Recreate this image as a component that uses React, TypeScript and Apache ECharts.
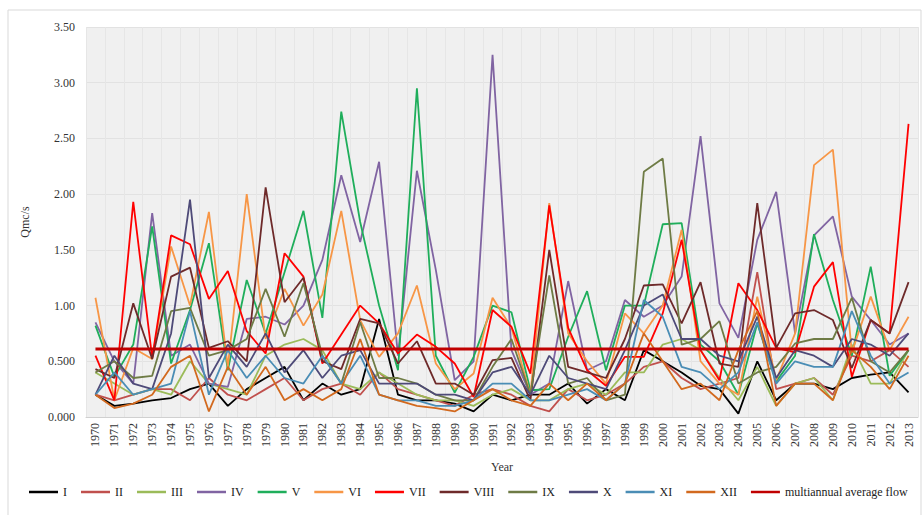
import React, { useEffect, useRef } from "react";
import * as echarts from "echarts";

const years = Array.from({ length: 44 }, (_, i) => String(1970 + i));
const yTicks = ["0.000", "0.500", "1.00", "1.50", "2.00", "2.50", "3.00", "3.50"];

const seriesNames = ["I", "II", "III", "IV", "V", "VI", "VII", "VIII", "IX", "X", "XI", "XII"];
const seriesColors = ["#000000", "#C0504D", "#9BBB59", "#8064A2", "#1FAE5B", "#F79646", "#FF0000", "#6E2A2A", "#6E7B45", "#4E4A78", "#4A8DB5", "#D2691E"];

const mI = [0.2, 0.1, 0.12, 0.15, 0.17, 0.25, 0.3, 0.1, 0.25, 0.35, 0.45, 0.15, 0.3, 0.2, 0.25, 0.88, 0.2, 0.15, 0.15, 0.12, 0.05, 0.2, 0.15, 0.2, 0.2, 0.3, 0.12, 0.25, 0.15, 0.6, 0.5, 0.4, 0.28, 0.25, 0.03, 0.5, 0.15, 0.3, 0.3, 0.25, 0.35, 0.38, 0.4, 0.22];
const mII = [0.2, 0.15, 0.2, 0.25, 0.25, 0.15, 0.35, 0.2, 0.15, 0.25, 0.35, 0.15, 0.25, 0.3, 0.2, 0.4, 0.25, 0.2, 0.15, 0.1, 0.2, 0.25, 0.2, 0.1, 0.05, 0.25, 0.15, 0.2, 0.3, 0.45, 0.5, 0.35, 0.25, 0.3, 0.35, 1.3, 0.25, 0.3, 0.35, 0.2, 0.55, 0.5, 0.6, 0.45];
const mIII = [0.4, 0.3, 0.2, 0.25, 0.2, 0.5, 0.3, 0.25, 0.2, 0.55, 0.65, 0.7, 0.6, 0.3, 0.25, 0.4, 0.3, 0.2, 0.15, 0.15, 0.1, 0.2, 0.25, 0.15, 0.15, 0.25, 0.3, 0.2, 0.4, 0.4, 0.65, 0.7, 0.6, 0.35, 0.15, 0.45, 0.1, 0.3, 0.35, 0.15, 0.65, 0.3, 0.3, 0.6];
const mIV = [0.85, 0.5, 0.3, 1.83, 0.55, 0.65, 0.3, 0.27, 0.88, 0.9, 0.83, 1.0, 1.41, 2.17, 1.57, 2.29, 0.55, 2.21, 1.32, 0.33, 0.5, 3.25, 0.6, 0.2, 0.3, 1.22, 0.42, 0.5, 1.05, 0.9, 1.0, 1.26, 2.52, 1.02, 0.71, 1.59, 2.02, 0.75, 1.63, 1.8, 1.08, 0.87, 0.65, 0.75];
const mV = [0.82, 0.36, 0.65, 1.71, 0.48, 0.96, 1.56, 0.42, 1.23, 0.75, 1.3, 1.85, 0.89, 2.74, 1.75, 1.0, 0.42, 2.95, 0.55, 0.22, 0.54, 1.0, 0.94, 0.24, 0.25, 0.72, 1.13, 0.42, 1.0, 1.0, 1.73, 1.74, 0.65, 0.5, 0.2, 0.84, 0.32, 0.55, 1.64, 1.05, 0.55, 1.35, 0.37, 0.6];
const mVI = [1.07, 0.15, 0.62, 0.52, 1.53, 1.0, 1.84, 0.45, 2.0, 0.7, 1.15, 0.82, 1.1, 1.85, 0.87, 0.54, 0.75, 1.18, 0.48, 0.25, 0.39, 1.07, 0.8, 0.2, 1.92, 0.75, 0.5, 0.3, 0.93, 0.75, 1.0, 1.68, 0.5, 0.3, 0.2, 1.08, 0.33, 0.75, 2.26, 2.4, 0.58, 1.08, 0.6, 0.9];
const mVII = [0.55, 0.15, 1.93, 0.53, 1.63, 1.55, 1.06, 1.31, 0.77, 0.57, 1.47, 1.26, 0.48, 0.74, 1.0, 0.84, 0.57, 0.74, 0.63, 0.48, 0.18, 0.96, 0.81, 0.39, 1.9, 0.8, 0.42, 0.28, 0.54, 0.54, 0.93, 1.59, 0.6, 0.33, 1.2, 0.96, 0.62, 0.58, 1.17, 1.39, 0.36, 0.87, 0.75, 2.63];
const mVIII = [0.43, 0.35, 1.02, 0.52, 1.26, 1.34, 0.62, 0.68, 0.5, 2.06, 1.03, 1.25, 0.5, 0.43, 0.88, 0.84, 0.48, 0.68, 0.3, 0.3, 0.2, 0.51, 0.53, 0.15, 1.5, 0.45, 0.4, 0.35, 0.7, 1.18, 1.19, 0.84, 1.21, 0.48, 0.45, 1.92, 0.62, 0.93, 0.96, 0.87, 0.44, 0.87, 0.75, 1.21];
const mIX = [0.4, 0.5, 0.35, 0.37, 0.95, 0.98, 0.55, 0.6, 0.7, 1.15, 0.72, 1.2, 0.55, 0.3, 0.85, 0.35, 0.35, 0.3, 0.2, 0.15, 0.15, 0.45, 0.7, 0.2, 1.27, 0.3, 0.35, 0.15, 0.2, 2.2, 2.32, 0.65, 0.7, 0.86, 0.3, 0.4, 0.45, 0.66, 0.7, 0.7, 1.07, 0.5, 0.4, 0.6];
const mX = [0.2, 0.55, 0.3, 0.25, 0.75, 1.95, 0.35, 0.65, 0.45, 0.75, 0.4, 0.6, 0.35, 0.55, 0.6, 0.3, 0.3, 0.3, 0.2, 0.2, 0.15, 0.4, 0.45, 0.2, 0.55, 0.35, 0.3, 0.25, 0.6, 1.0, 1.1, 0.7, 0.7, 0.55, 0.5, 0.9, 0.35, 0.6, 0.55, 0.45, 0.7, 0.65, 0.55, 0.75];
const mXI = [0.2, 0.4, 0.2, 0.25, 0.3, 0.95, 0.2, 0.6, 0.35, 0.55, 0.35, 0.3, 0.55, 0.3, 0.55, 0.2, 0.15, 0.15, 0.1, 0.1, 0.15, 0.3, 0.3, 0.15, 0.15, 0.2, 0.25, 0.15, 0.3, 1.05, 0.9, 0.45, 0.4, 0.25, 0.4, 0.85, 0.3, 0.5, 0.45, 0.45, 0.95, 0.55, 0.3, 0.4];
const mXII = [0.2, 0.08, 0.12, 0.2, 0.45, 0.55, 0.05, 0.45, 0.2, 0.45, 0.15, 0.25, 0.15, 0.25, 0.7, 0.2, 0.15, 0.1, 0.08, 0.05, 0.15, 0.25, 0.15, 0.1, 0.3, 0.15, 0.3, 0.15, 0.3, 0.75, 0.5, 0.25, 0.3, 0.15, 0.6, 0.95, 0.1, 0.3, 0.3, 0.15, 0.6, 0.45, 0.25, 0.55];
const monthly = [mI, mII, mIII, mIV, mV, mVI, mVII, mVIII, mIX, mX, mXI, mXII];

const avgName = "multiannual average flow";
const avgFlow = 0.61;
const avgColor = "#C00000";

const FONT = "'Liberation Serif', 'Times New Roman', serif";

export default function App() {
  const ref = useRef<HTMLDivElement>(null);
  useEffect(() => {
    if (!ref.current) return;
    const chart = echarts.init(ref.current, null, { renderer: "svg" });
    const series: any[] = monthly.map((d, i) => ({
      name: seriesNames[i],
      type: "line",
      data: d,
      symbol: "none",
      color: seriesColors[i],
      lineStyle: { width: 1.8, color: seriesColors[i] },
      z: 2,
    }));
    series.push({
      name: avgName,
      type: "line",
      data: years.map(() => avgFlow),
      symbol: "none",
      color: avgColor,
      lineStyle: { width: 3, color: avgColor },
      z: 3,
    });
    chart.setOption({
      animation: false,
      backgroundColor: "#ffffff",
      textStyle: { fontFamily: FONT },
      graphic: [
        {
          type: "rect",
          shape: { x: 8, y: 10, width: 913, height: 520 },
          style: { fill: "none", stroke: "#d9d9d9", lineWidth: 1 },
          silent: true,
          z: -10,
        },
      ],
      grid: {
        left: 86,
        right: 6,
        top: 27,
        bottom: 98,
        show: true,
        backgroundColor: "#f0f0f0",
        borderWidth: 0,
      },
      legend: {
        bottom: 12,
        left: 24,
        width: 900,
        icon: "rect",
        itemWidth: 29,
        itemHeight: 2.5,
        itemGap: 14,
        textStyle: { fontFamily: FONT, fontSize: 12, color: "#222" },
        data: [...seriesNames, avgName],
      },
      xAxis: {
        type: "category",
        data: years,
        boundaryGap: true,
        name: "Year",
        nameLocation: "middle",
        nameGap: 44,
        nameTextStyle: { fontFamily: FONT, fontSize: 12, color: "#333" },
        axisLine: { show: true, lineStyle: { color: "#d0d0d0" } },
        axisTick: { show: false },
        axisLabel: { rotate: 90, fontFamily: FONT, fontSize: 12, color: "#333", margin: 6, interval: 0 },
        splitLine: { show: true, lineStyle: { color: "#e6e6e6", width: 1 } },
      },
      yAxis: {
        type: "value",
        min: 0,
        max: 3.5,
        interval: 0.5,
        name: "Qmc/s",
        nameLocation: "middle",
        nameGap: 55,
        nameRotate: 90,
        nameTextStyle: { fontFamily: FONT, fontSize: 12, color: "#333" },
        axisLine: { show: false },
        axisTick: { show: false },
        axisLabel: {
          fontFamily: FONT,
          fontSize: 12,
          color: "#333",
          margin: 11,
          formatter: (v: number) => yTicks[Math.round(v / 0.5)] ?? String(v),
        },
        splitLine: { show: true, lineStyle: { color: "#e2e2e2", width: 1 } },
      },
      series,
    });
    return () => chart.dispose();
  }, []);
  return (
    <div
      ref={ref}
      style={{ position: "absolute", left: 0, top: 0, width: 924, height: 515 }}
    />
  );
}
